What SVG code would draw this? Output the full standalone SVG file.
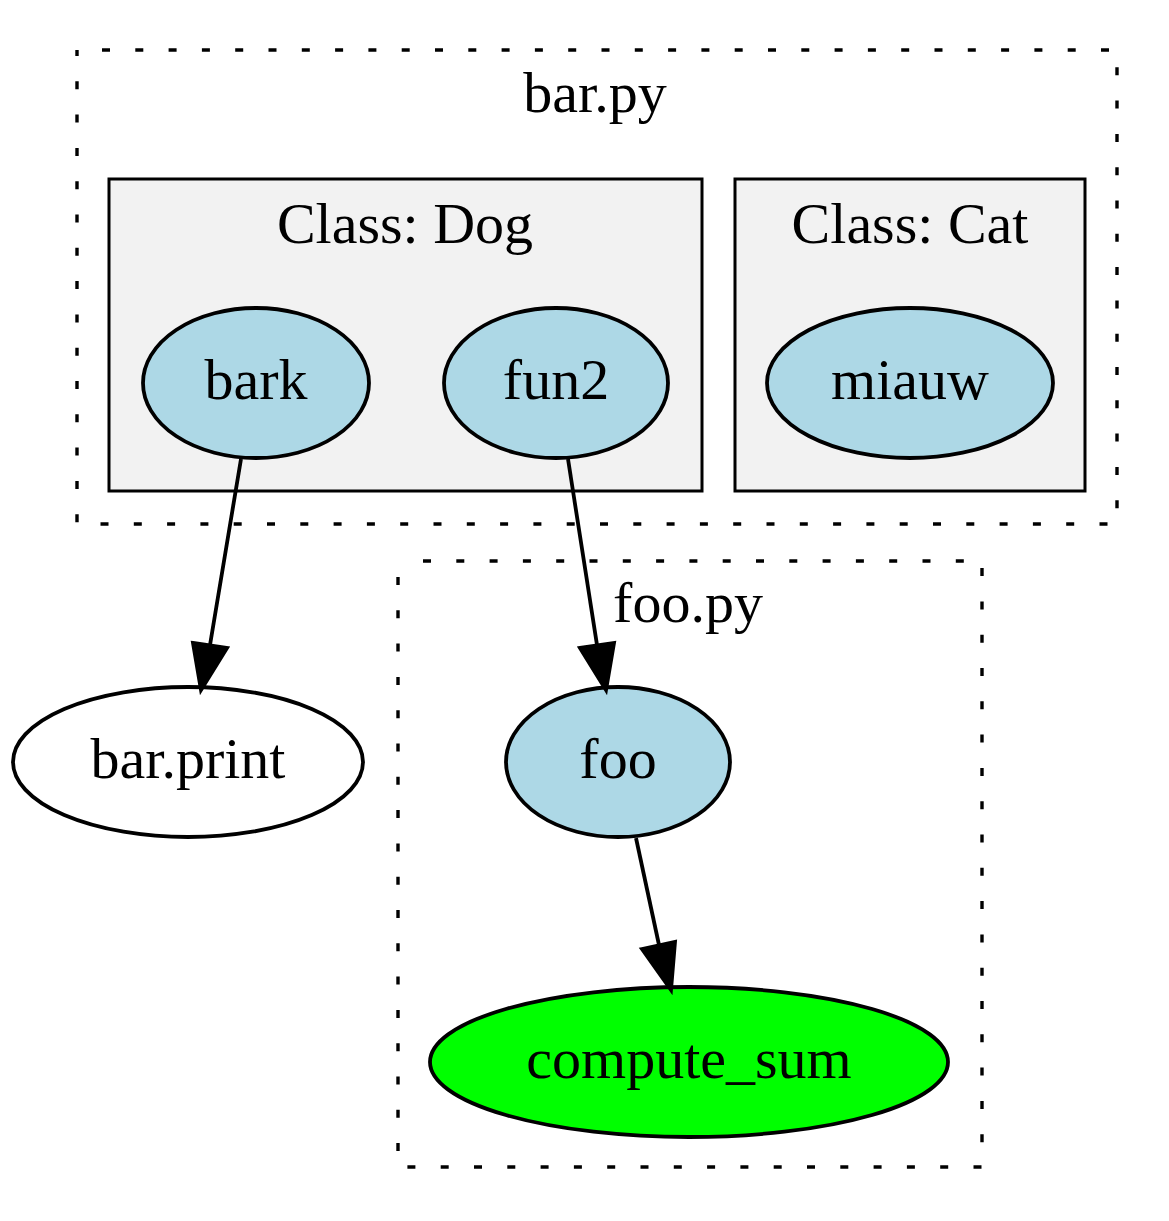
<svg xmlns="http://www.w3.org/2000/svg" width="1169" height="1221" viewBox="0 0 1169 1221">
<style>
text{font-family:"Liberation Serif","Times New Roman",serif;font-size:58px;fill:#000;text-anchor:middle}
.outer{fill:none;stroke:#000;stroke-width:3.4;stroke-dasharray:8,25.3;stroke-dashoffset:8.3}
.cls{fill:#f2f2f2;stroke:#000;stroke-width:3}
.node{stroke:#000;stroke-width:3.8}
.fn{fill:#add8e6}
.edge{fill:none;stroke:#000;stroke-width:3.8}
.head{fill:#000;stroke:#000;stroke-width:3.8}
</style>
<rect width="1169" height="1221" fill="#fff"/>
<g id="cluster_bar">
<rect class="outer" x="77" y="50" width="1040" height="474"/>
<text x="595" y="112">bar.py</text>
</g>
<g id="cluster_dog">
<rect class="cls" x="109" y="179" width="593" height="312"/>
<text x="405" y="243">Class: Dog</text>
</g>
<g id="cluster_cat">
<rect class="cls" x="735" y="179" width="350" height="312"/>
<text x="910" y="243">Class: Cat</text>
</g>
<g id="cluster_foo">
<rect class="outer" x="398" y="561" width="584" height="606"/>
<text x="688" y="622">foo.py</text>
</g>
<g id="node_bark">
<ellipse class="node fn" cx="256" cy="383" rx="113" ry="75"/>
<text x="256" y="399">bark</text>
</g>
<g id="node_fun2">
<ellipse class="node fn" cx="556" cy="383" rx="112" ry="75"/>
<text x="556" y="399">fun2</text>
</g>
<g id="node_miauw">
<ellipse class="node fn" cx="910" cy="383" rx="143" ry="75"/>
<text x="910" y="399">miauw</text>
</g>
<g id="node_barprint">
<ellipse class="node" fill="#fff" cx="188" cy="762" rx="175" ry="75"/>
<text x="188" y="778">bar.print</text>
</g>
<g id="node_foo">
<ellipse class="node fn" cx="618" cy="762" rx="112" ry="75"/>
<text x="618" y="778">foo</text>
</g>
<g id="node_compute_sum">
<ellipse class="node" fill="#00ff00" cx="689" cy="1062" rx="259" ry="75"/>
<text x="689" y="1078">compute_sum</text>
</g>
<g id="connectors">
<path class="edge" d="M241,459 L210,645"/>
<polygon class="head" points="193,643 227,648 201,690"/>
<path class="edge" d="M568,459 L597,645"/>
<polygon class="head" points="580,648 614,643 606,690"/>
<path class="edge" d="M636,838 L659,945"/>
<polygon class="head" points="642,949 675,942 671,990"/>
</g>
</svg>
